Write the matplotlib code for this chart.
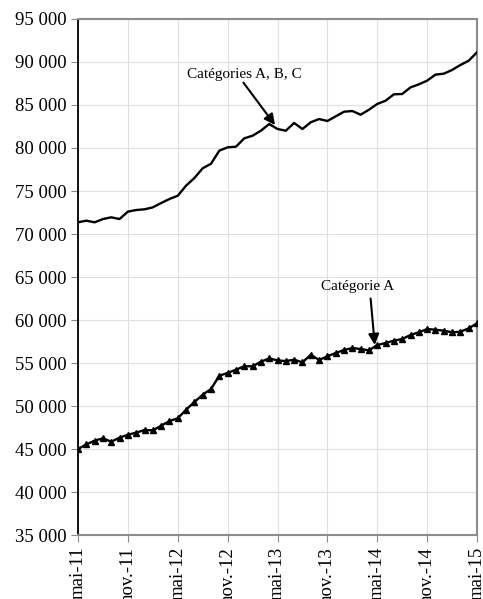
import numpy as np
import matplotlib
matplotlib.use("Agg")
import matplotlib.pyplot as plt
import matplotlib.ticker as mticker

plt.rcParams["font.family"] = ["Liberation Serif", "DejaVu Serif"]

# monthly values, mai-11 .. mai-15
cat_abc = [71360, 71550, 71360, 71740, 71940, 71740, 72600, 72790, 72870, 73100,
           73600, 74070, 74450, 75620, 76510, 77640, 78170, 79690, 80080, 80150,
           81120, 81430, 82010, 82790, 82210, 82010, 82910, 82210, 82990, 83370,
           83140, 83680, 84220, 84300, 83870, 84450, 85120, 85500, 86240, 86280,
           87050, 87400, 87830, 88530, 88640, 89070, 89650, 90150, 91130]
cat_a = [45000, 45540, 45970, 46240, 45850, 46320, 46660, 46900, 47210, 47170,
         47710, 48250, 48570, 49570, 50470, 51310, 51980, 53530, 53840, 54220,
         54620, 54620, 55150, 55540, 55300, 55230, 55380, 55080, 55960, 55350,
         55780, 56160, 56510, 56740, 56630, 56470, 57090, 57320, 57600, 57790,
         58260, 58570, 58950, 58870, 58760, 58570, 58640, 59030, 59620]
tick_labels = ["mai-11", "nov.-11", "mai-12", "nov.-12", "mai-13",
               "nov.-13", "mai-14", "nov.-14", "mai-15"]

months = np.arange(len(cat_abc))
GREY = "#8c8c8c"

fig = plt.figure(figsize=(4.83, 5.99), dpi=100)
ax = fig.add_axes([0.1615, 0.1068, 0.8261, 0.8615])

ax.plot(months, cat_abc, color="black", lw=1.7, zorder=3)
ax.plot(months, cat_a, color="black", lw=1.7, marker="^", markersize=4.5, zorder=3)

ax.annotate("", xy=(23.7, 82670), xytext=(19.9, 87600),
            arrowprops=dict(arrowstyle="-|>", mutation_scale=16, lw=1.5,
                            color="black", shrinkA=0, shrinkB=0))
ax.text(20.0, 88550, "Catégories A, B, C", ha="center", va="center", fontsize=11)
ax.annotate("", xy=(35.7, 57100), xytext=(35.2, 62500),
            arrowprops=dict(arrowstyle="-|>", mutation_scale=16, lw=1.5,
                            color="black", shrinkA=0, shrinkB=0))
ax.text(33.6, 63900, "Catégorie A", ha="center", va="center", fontsize=11)

ax.set_xlim(0, 48)
ax.set_ylim(35000, 95000)
ax.set_xticks(np.arange(0, 49, 6))
ax.set_xticklabels(tick_labels, rotation=90, fontsize=13.5)
ax.set_yticks(np.arange(35000, 95001, 5000))
ax.yaxis.set_major_formatter(mticker.FuncFormatter(lambda v, _: f"{int(v):,}".replace(",", " ")))
ax.tick_params(axis="y", labelsize=13.5, color=GREY, length=5)
ax.tick_params(axis="x", color=GREY, length=5)
ax.grid(True, color="#e0e0e0", lw=0.8)
ax.set_axisbelow(True)

for side in ("top", "right", "bottom"):
    ax.spines[side].set_color(GREY)
    ax.spines[side].set_linewidth(1.5)
ax.spines["left"].set_color("black")
ax.spines["left"].set_linewidth(1.3)

fig.savefig("out.png", dpi=100)
